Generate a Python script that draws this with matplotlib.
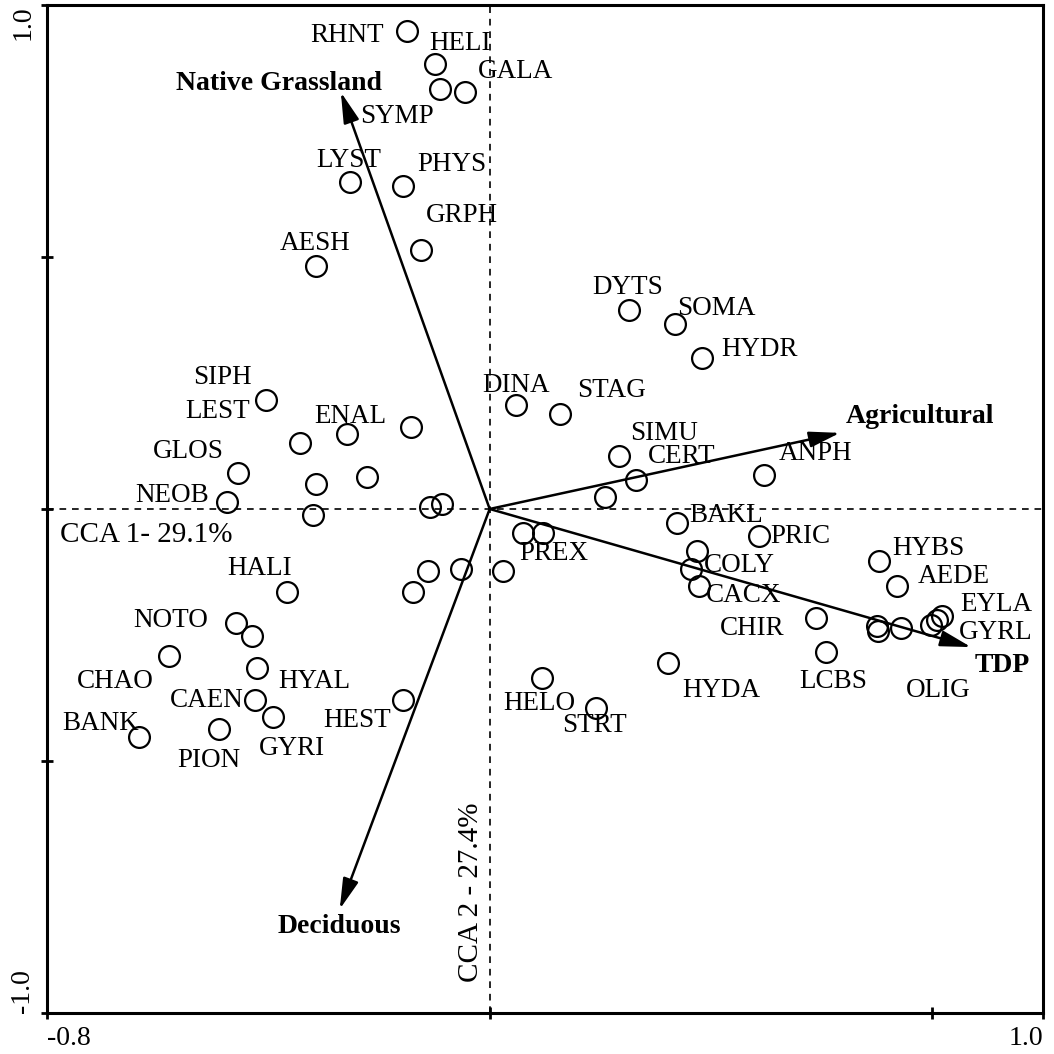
import matplotlib
matplotlib.use("Agg")
import matplotlib.pyplot as plt

plt.rcParams['font.family'] = ['Liberation Serif', 'DejaVu Serif']

# site / taxon scores on CCA axes 1 and 2
site_x = [-0.150, -0.099, -0.090, -0.045, -0.253, -0.157, -0.125, -0.313,
          0.251, 0.335, 0.383, 0.047, 0.127, 0.233, 0.264, 0.208, 0.495,
          -0.405, -0.342, -0.257, -0.143, -0.454, -0.313, -0.221,
          -0.474, -0.320, -0.108, -0.087,
          -0.367, -0.112, -0.052, -0.139, 0.024,
          0.060, 0.096, 0.338, 0.486, 0.374, 0.363, 0.378,
          0.703, 0.736, 0.590, 0.700, 0.702, 0.743, 0.817, 0.808, 0.797,
          0.608, 0.322, 0.094, 0.193,
          -0.458, -0.430, -0.579, -0.420, -0.425, -0.392, -0.157, -0.633, -0.490]
site_y = [0.948, 0.883, 0.833, 0.827, 0.649, 0.641, 0.514, 0.482,
          0.395, 0.367, 0.300, 0.206, 0.188, 0.105, 0.058, 0.024, 0.067,
          0.216, 0.131, 0.149, 0.163, 0.071, 0.050, 0.063,
          0.014, -0.012, 0.004, 0.010,
          -0.165, -0.123, -0.119, -0.165, -0.123,
          -0.048, -0.048, -0.028, -0.054, -0.083, -0.119, -0.153,
          -0.103, -0.153, -0.216, -0.232, -0.242, -0.236, -0.212, -0.220, -0.230,
          -0.284, -0.306, -0.335, -0.395,
          -0.226, -0.252, -0.292, -0.315, -0.379, -0.413, -0.379, -0.452, -0.437]

# taxon codes and where their labels sit (x centre, baseline y)
taxa = ['RHNT', 'HELI', 'GALA', 'SYMP', 'LYST', 'PHYS', 'GRPH', 'AESH',
        'DYTS', 'SOMA', 'HYDR', 'DINA', 'STAG', 'SIMU', 'CERT', 'ANPH',
        'BAKL', 'PRIC', 'HYBS', 'AEDE', 'COLY', 'CACX', 'EYLA', 'GYRL',
        'CHIR', 'LCBS', 'OLIG', 'HYDA', 'HELO', 'STRT', 'PREX',
        'SIPH', 'LEST', 'ENAL', 'GLOS', 'NEOB', 'HALI', 'NOTO', 'CHAO',
        'HYAL', 'CAEN', 'HEST', 'BANK', 'GYRI', 'PION']
taxa_x = [-0.257, -0.054, 0.047, -0.168, -0.255, -0.069, -0.051, -0.316,
          0.250, 0.410, 0.488, 0.047, 0.221, 0.316, 0.347, 0.588,
          0.427, 0.562, 0.792, 0.839, 0.452, 0.459, 0.915, 0.915,
          0.474, 0.620, 0.810, 0.418, 0.090, 0.190, 0.116,
          -0.483, -0.492, -0.251, -0.544, -0.573, -0.416, -0.577, -0.676,
          -0.316, -0.512, -0.239, -0.703, -0.358, -0.508]
taxa_y = [0.927, 0.911, 0.855, 0.766, 0.679, 0.671, 0.569, 0.514,
          0.427, 0.385, 0.304, 0.232, 0.222, 0.137, 0.091, 0.097,
          -0.026, -0.067, -0.091, -0.147, -0.125, -0.185, -0.202, -0.258,
          -0.250, -0.355, -0.373, -0.373, -0.399, -0.442, -0.101,
          0.248, 0.181, 0.171, 0.101, 0.014, -0.131, -0.234, -0.355,
          -0.355, -0.393, -0.433, -0.438, -0.488, -0.512]

# environmental biplot vectors
env_names = ['Native Grassland', 'Agricultural', 'TDP', 'Deciduous']
env_x = [-0.269, 0.633, 0.870, -0.271]
env_y = [0.827, 0.151, -0.274, -0.794]
env_label_x = [-0.380, 0.778, 0.926, -0.271]
env_label_y = [0.831, 0.171, -0.323, -0.841]

fig = plt.figure(figsize=(10.54, 10.54), dpi=100)
ax = fig.add_axes([0.0446, 0.0389, 0.945, 0.9564])
ax.set_xlim(-0.8, 1.0)
ax.set_ylim(-1.0, 1.0)

ax.axhline(0, color='black', lw=1.2, ls=(0, (4, 3.5)), zorder=1)
ax.axvline(0, color='black', lw=1.2, ls=(0, (4, 3.5)), zorder=1)

ax.plot(site_x, site_y, 'o', ms=15, mfc='none', mec='black', mew=1.6, zorder=3)

for name, x, y in zip(taxa, taxa_x, taxa_y):
    ax.text(x, y, name, fontsize=19.5, ha='center', va='baseline', zorder=4)

for name, x, y, lx, ly in zip(env_names, env_x, env_y, env_label_x, env_label_y):
    ax.annotate('', xy=(x, y), xytext=(0, 0),
                arrowprops=dict(arrowstyle='-|>,head_length=0.85,head_width=0.22',
                                mutation_scale=22, lw=1.8, color='black',
                                shrinkA=0, shrinkB=0), zorder=2)
    ax.text(lx, ly, name, fontsize=20, fontweight='bold', ha='center',
            va='baseline', zorder=4)

ax.text(-0.620, -0.065, 'CCA 1- 29.1%', fontsize=21, ha='center', va='baseline')
ax.text(-0.033, -0.760, 'CCA 2 - 27.4%', fontsize=21, rotation=90,
        ha='center', va='center')

for side in ax.spines.values():
    side.set_linewidth(2.2)

ax.set_xticks([-0.8, 0.0, 0.8, 1.0])
ax.set_xticklabels(['-0.8', '', '', '1.0'], fontsize=20)
ax.set_yticks([-1.0, -0.5, 0.0, 0.5, 1.0])
ax.set_yticklabels(['-1.0', '', '', '', '1.0'], fontsize=20, rotation=90)
ax.tick_params(direction='inout', length=9, width=2)
ax.tick_params(axis='x', pad=5)
ax.tick_params(axis='y', pad=4)

xlabels = ax.get_xticklabels()
xlabels[0].set_ha('left')
xlabels[-1].set_ha('right')
ylabels = ax.get_yticklabels()
ylabels[0].set_va('bottom')
ylabels[-1].set_va('top')

fig.savefig('out.png', dpi=100)
